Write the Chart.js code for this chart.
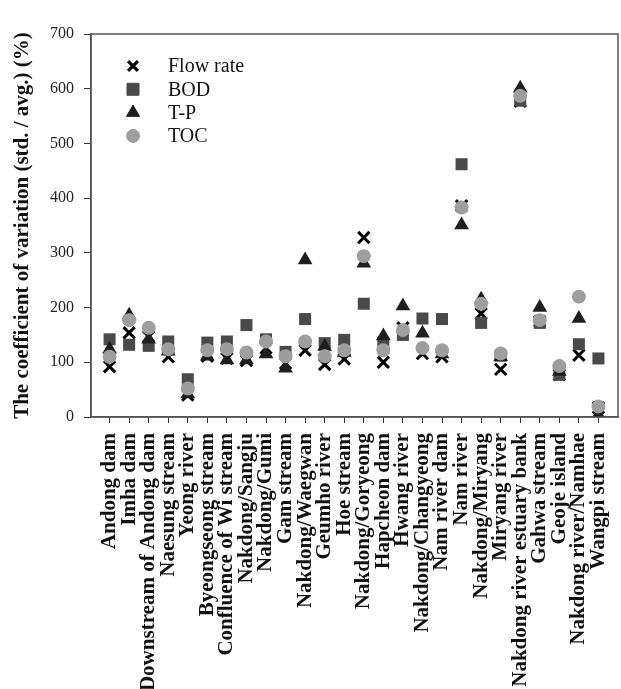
<!DOCTYPE html>
<html>
<head>
<meta charset="utf-8">
<script src="https://cdn.jsdelivr.net/npm/chart.js@4"></script>
<style>
  body { margin: 0; background: #fff; }
  #wrap { width: 621px; height: 689px; }
</style>
</head>
<body>
<div id="wrap"><canvas id="chartCv"></canvas></div>
<script>
const sites = ["Andong dam", "Imha dam", "Downstream of Andong dam", "Naesung stream", "Yeong river",
  "Byeongseong stream", "Confluence of Wi stream", "Nakdong/Sangju", "Nakdong/Gumi", "Gam stream",
  "Nakdong/Waegwan", "Geumho river", "Hoe stream", "Nakdong/Goryeong", "Hapcheon dam", "Hwang river",
  "Nakdong/Changyeong", "Nam river dam", "Nam river", "Nakdong/Miryang", "Miryang river",
  "Nakdong river estuary bank", "Gahwa stream", "Geoje island", "Nakdong river/Namhae", "Wangpi stream"];

const flowRate = [92, 154, 147, 110, 40, 111, 107, 103, 126, 98, 122, 96, 106, 328, 100, 163, 116, 110, 386, 189, 87, 577, 175, 77, 113, 17];
const bod = [142, 132, 130, 138, 69, 136, 138, 168, 142, 119, 179, 135, 141, 207, 135, 150, 180, 179, 462, 172, 112, 578, 172, 77, 133, 107];
const tp = [124, 186, 142, 120, 42, 111, 104, 104, 115, 89, 287, 129, 118, 281, 148, 203, 153, 115, 351, 215, 110, 601, 200, 83, 180, 4];
const toc = [110, 177, 163, 124, 52, 122, 124, 118, 138, 111, 138, 111, 122, 294, 122, 159, 126, 122, 383, 207, 116, 587, 177, 93, 220, 19];

const yTicks = [0, 100, 200, 300, 400, 500, 600, 700];

const COLORS = {
  flow: "#000000",
  bod: "#4a4a4a",
  tp: "#1e1e1e",
  toc: "#9e9e9e",
};

const toPoints = (arr) => arr.map((v, i) => ({ x: i, y: v }));

// legend drawn by hand so it sits inside the plot, like the original
const legendBox = {
  id: "legendBox",
  afterDatasetsDraw(chart) {
    const ctx = chart.ctx;
    const items = [
      { text: "Flow rate", style: "crossRot", color: COLORS.flow, r: 7 },
      { text: "BOD", style: "rect", color: COLORS.bod, r: 8.5 },
      { text: "T-P", style: "triangle", color: COLORS.tp, r: 7.5 },
      { text: "TOC", style: "circle", color: COLORS.toc, r: 6.5 },
    ];
    ctx.save();
    ctx.font = "20px 'Liberation Serif'";
    ctx.textBaseline = "middle";
    items.forEach((it, k) => {
      const y = 66 + k * 23.3;
      ctx.fillStyle = it.color;
      ctx.strokeStyle = it.color;
      ctx.lineWidth = it.style === "crossRot" ? 3.2 : 1;
      Chart.helpers.drawPoint(ctx, { pointStyle: it.style, radius: it.r, borderWidth: ctx.lineWidth }, 133, y);
      ctx.fillStyle = "#111";
      ctx.fillText(it.text, 168, y + 1);
    });
    ctx.restore();
  },
  // box frame round the plot
  afterDraw(chart) {
    const a = chart.chartArea;
    const ctx = chart.ctx;
    ctx.save();
    ctx.strokeStyle = "#555";
    ctx.lineWidth = 1.5;
    ctx.strokeRect(a.left, a.top, a.right - a.left, a.bottom - a.top);
    ctx.restore();
  },
};

const ctx = document.getElementById("chartCv").getContext("2d");
new Chart(ctx, {
  type: "scatter",
  data: {
    datasets: [
      {
        label: "Flow rate", data: toPoints(flowRate), pointStyle: "crossRot",
        pointRadius: 8, borderColor: COLORS.flow, backgroundColor: COLORS.flow, pointBorderWidth: 3, order: 3,
      },
      {
        label: "BOD", data: toPoints(bod), pointStyle: "rect",
        pointRadius: 8.5, borderColor: COLORS.bod, backgroundColor: COLORS.bod, pointBorderWidth: 0, order: 2,
      },
      {
        label: "T-P", data: toPoints(tp), pointStyle: "triangle",
        pointRadius: 8.5, borderColor: COLORS.tp, backgroundColor: COLORS.tp, pointBorderWidth: 0, order: 1,
      },
      {
        label: "TOC", data: toPoints(toc), pointStyle: "circle",
        pointRadius: 7, borderColor: COLORS.toc, backgroundColor: COLORS.toc, pointBorderWidth: 0, order: 0,
      },
    ],
  },
  options: {
    responsive: true,
    maintainAspectRatio: false,
    animation: false,
    layout: { autoPadding: false, padding: { top: 34, right: 3, left: 0, bottom: 0 } },
    plugins: {
      legend: { display: false },
      tooltip: { enabled: false },
    },
    scales: {
      x: {
        type: "linear",
        min: -0.95,
        max: 26,
        afterBuildTicks: (scale) => {
          scale.ticks = sites.map((_, i) => ({ value: i }));
        },
        afterFit: (scale) => {
          scale.height = 272;
          scale.paddingLeft = 0;
          scale.paddingRight = 0;
        },
        grid: { drawOnChartArea: false, drawTicks: true, tickLength: 6, color: "#333" },
        border: { display: true, color: "#555", width: 1.5 },
        ticks: {
          autoSkip: false,
          maxRotation: 90,
          minRotation: 90,
          padding: 10,
          color: "#111",
          font: { family: "'Liberation Serif'", size: 21, weight: "bold" },
          callback: (v) => sites[v] ?? "",
        },
      },
      y: {
        min: 0,
        max: 700,
        afterBuildTicks: (scale) => {
          scale.ticks = yTicks.map((v) => ({ value: v }));
        },
        afterFit: (scale) => { scale.width = 91; },
        grid: { drawOnChartArea: false, drawTicks: true, tickLength: 7, color: "#333" },
        border: { display: true, color: "#555", width: 1.5 },
        ticks: {
          padding: 10,
          color: "#222",
          font: { family: "'Liberation Serif'", size: 16 },
        },
        title: {
          display: true,
          text: "The coefficient of variation (std. / avg.) (%)",
          color: "#111",
          padding: { top: 10, bottom: 0 },
          font: { family: "'Liberation Serif'", size: 21, weight: "bold" },
        },
      },
    },
  },
  plugins: [legendBox],
});
</script>
</body>
</html>
